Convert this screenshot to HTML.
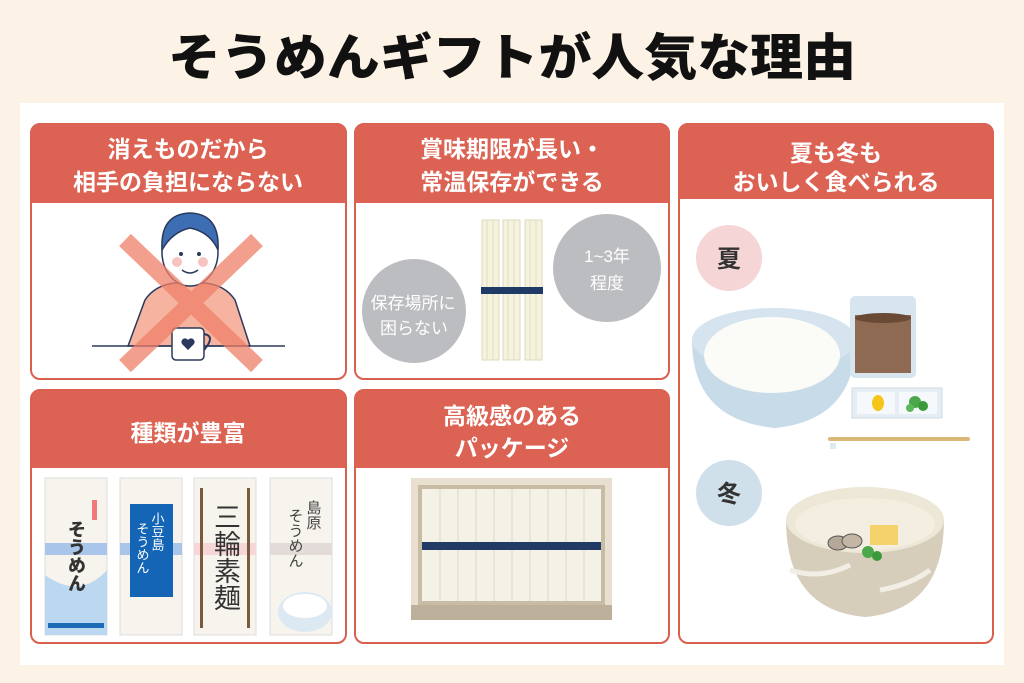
<!DOCTYPE html>
<html><head><meta charset="utf-8"><style>
html,body{margin:0;padding:0;background:#fcf3e6;}
svg{display:block}
text{font-family:"Liberation Sans","Noto Sans CJK JP",sans-serif;}
</style></head><body>
<svg width="1024" height="683" viewBox="0 0 1024 683" xmlns="http://www.w3.org/2000/svg">
<rect width="1024" height="683" fill="#fcf3e6"/>
<text x="512" y="75" text-anchor="middle" font-size="50" font-weight="900" fill="#111" textLength="688" lengthAdjust="spacingAndGlyphs">そうめんギフトが人気な理由</text>
<rect x="20" y="103" width="984" height="562" fill="#fff"/>

<!-- cards -->
<g stroke="#d9604f" stroke-width="2" fill="#fff">
<rect x="31" y="124" width="315" height="255" rx="9"/>
<rect x="355" y="124" width="314" height="255" rx="9"/>
<rect x="679" y="124" width="314" height="519" rx="9"/>
<rect x="31" y="390" width="315" height="253" rx="9"/>
<rect x="355" y="390" width="314" height="253" rx="9"/>
</g>
<g fill="#dc6353">
<path d="M31 203V133a9 9 0 0 1 9-9h297a9 9 0 0 1 9 9v70z"/>
<path d="M355 203V133a9 9 0 0 1 9-9h296a9 9 0 0 1 9 9v70z"/>
<path d="M679 199V133a9 9 0 0 1 9-9h296a9 9 0 0 1 9 9v66z"/>
<path d="M31 468V399a9 9 0 0 1 9-9h297a9 9 0 0 1 9 9v69z"/>
<path d="M355 468V399a9 9 0 0 1 9-9h296a9 9 0 0 1 9 9v69z"/>
</g>
<g fill="#fff" font-size="23" font-weight="700" text-anchor="middle">
<text x="188" y="157">消えものだから</text>
<text x="188" y="190">相手の負担にならない</text>
<text x="512" y="157">賞味期限が長い・</text>
<text x="512" y="190">常温保存ができる</text>
<text x="836" y="161">夏も冬も</text>
<text x="836" y="190">おいしく食べられる</text>
<text x="188" y="441">種類が豊富</text>
<text x="512" y="424">高級感のある</text>
<text x="512" y="456">パッケージ</text>
</g>

<!-- card1 person -->
<path d="M128 346 L145 300 Q155 285 175 283 L205 283 Q225 285 235 300 L250 346Z" fill="#f6b4a0" stroke="#2b3a5c" stroke-width="1.5"/>
<ellipse cx="190" cy="252" rx="28" ry="34" fill="#fff" stroke="#2b3a5c" stroke-width="1.5"/>
<path d="M162 250 Q160 214 190 213 Q220 214 218 250 Q210 232 190 228 Q172 232 162 250Z" fill="#3d6db3" stroke="#2b3a5c" stroke-width="1.5"/>
<circle cx="177" cy="262" r="5" fill="#f7c3c0"/><circle cx="203" cy="262" r="5" fill="#f7c3c0"/>
<circle cx="181" cy="254" r="2" fill="#2b3a5c"/><circle cx="199" cy="254" r="2" fill="#2b3a5c"/>
<path d="M182 270 Q190 276 198 270" stroke="#2b3a5c" fill="none" stroke-width="1.5"/>
<line x1="92" y1="346" x2="285" y2="346" stroke="#2b3a5c" stroke-width="1.5"/>
<rect x="172" y="328" width="32" height="32" rx="4" fill="#fff" stroke="#2b3a5c" stroke-width="1.5"/>
<path d="M204 334 q12 2 0 16" stroke="#2b3a5c" fill="none" stroke-width="2"/>
<path d="M188 350 l-6 -6 a3.5 3.5 0 0 1 6 -4 a3.5 3.5 0 0 1 6 4z" fill="#2b3a5c"/>
<g stroke="#f08068" stroke-width="17" opacity="0.75">
<line x1="125" y1="240" x2="257" y2="366"/><line x1="257" y1="240" x2="125" y2="366"/>
</g>

<!-- card2 -->
<circle cx="414" cy="311" r="52" fill="#bcbdc0"/>
<circle cx="607" cy="268" r="54" fill="#bcbdc0"/>
<g fill="#fff" font-size="17" text-anchor="middle">
<text x="413" y="309">保存場所に</text>
<text x="414" y="334">困らない</text>
<text x="607" y="262">1~3年</text>
<text x="607" y="289">程度</text>
</g>
<g fill="#f5f2dd" stroke="#dcd9bf" stroke-width="1">
<rect x="482" y="220" width="17" height="140"/><rect x="503" y="220" width="17" height="140"/><rect x="525" y="220" width="17" height="140"/>
</g>
<g stroke="#e3dfc4" stroke-width="1">
<line x1="487" y1="220" x2="487" y2="360"/><line x1="493" y1="220" x2="493" y2="360"/>
<line x1="508" y1="220" x2="508" y2="360"/><line x1="514" y1="220" x2="514" y2="360"/>
<line x1="530" y1="220" x2="530" y2="360"/><line x1="536" y1="220" x2="536" y2="360"/>
</g>
<rect x="481" y="287" width="62" height="7" fill="#203a66"/>

<!-- card4 packages -->
<rect x="45" y="478" width="62" height="157" fill="#f7f4ee" stroke="#ddd" /> 
<path d="M45 575 Q80 600 107 570 L107 635 L45 635Z" fill="#bcd7f0"/>
<rect x="48" y="623" width="56" height="5" fill="#1e6bb8"/>
<rect x="45" y="543" width="62" height="12" fill="#a9c6ea"/>
<rect x="92" y="500" width="5" height="20" fill="#f07a7a"/>
<text x="76" y="520" font-size="18" font-weight="900" fill="#333" writing-mode="tb" text-anchor="start">そうめん</text>
<rect x="120" y="478" width="62" height="157" fill="#f7f4ee" stroke="#ddd"/>
<rect x="120" y="543" width="62" height="12" fill="#a9c6ea"/>
<rect x="130" y="504" width="43" height="93" fill="#1465b5"/>
<text x="157" y="512" font-size="13" fill="#fff" writing-mode="tb">小豆島</text>
<text x="142" y="522" font-size="13" fill="#fff" writing-mode="tb">そうめん</text>
<rect x="194" y="478" width="62" height="157" fill="#f7f4ee" stroke="#ddd"/>
<rect x="194" y="543" width="62" height="12" fill="#f6d6d6"/>
<rect x="200" y="488" width="3" height="140" fill="#7a5a3a"/><rect x="247" y="488" width="3" height="140" fill="#7a5a3a"/>
<text x="225" y="503" font-size="27" fill="#333" font-family="'Noto Serif CJK SC',serif" writing-mode="tb">三輪素麺</text>
<rect x="270" y="478" width="62" height="157" fill="#f7f4ee" stroke="#ddd"/>
<rect x="270" y="543" width="62" height="12" fill="#e3dbd8"/>
<text x="313" y="500" font-size="15" fill="#444" writing-mode="tb">島原</text>
<text x="295" y="508" font-size="15" fill="#444" writing-mode="tb">そうめん</text>
<ellipse cx="305" cy="612" rx="27" ry="20" fill="#dce9f2"/><ellipse cx="305" cy="606" rx="22" ry="12" fill="#fff"/>

<!-- card5 box -->
<path d="M411 478 H612 V608 L605 620 H418 L411 608Z" fill="#e8dfd0"/>
<rect x="411" y="605" width="201" height="15" fill="#bdb09a"/>
<rect x="418" y="485" width="187" height="120" fill="#c9bca5"/>
<rect x="422" y="489" width="179" height="112" fill="#f4f1e6"/>
<g stroke="#ddd8c6" stroke-width="1">
<line x1="440" y1="489" x2="440" y2="601"/><line x1="458" y1="489" x2="458" y2="601"/><line x1="476" y1="489" x2="476" y2="601"/><line x1="494" y1="489" x2="494" y2="601"/><line x1="512" y1="489" x2="512" y2="601"/><line x1="530" y1="489" x2="530" y2="601"/><line x1="548" y1="489" x2="548" y2="601"/><line x1="566" y1="489" x2="566" y2="601"/><line x1="584" y1="489" x2="584" y2="601"/>
</g>
<rect x="422" y="542" width="179" height="8" fill="#223a66"/>

<!-- card3 -->
<circle cx="729" cy="258" r="33" fill="#f5d5d5"/>
<text x="729" y="267" text-anchor="middle" font-size="24" font-weight="700" fill="#333">夏</text>
<circle cx="729" cy="493" r="33" fill="#cfe0ea"/>
<text x="729" y="502" text-anchor="middle" font-size="24" font-weight="700" fill="#333">冬</text>
<path d="M692 340 Q692 420 775 428 Q855 420 856 340Z" fill="#c8dbe8"/>
<ellipse cx="774" cy="340" rx="82" ry="32" fill="#d5e4ee"/>
<ellipse cx="772" cy="355" rx="68" ry="38" fill="#fbfbf7"/>
<rect x="850" y="296" width="66" height="82" rx="5" fill="#d7e6ee"/>
<rect x="855" y="315" width="56" height="58" fill="#8e6a52"/>
<ellipse cx="883" cy="318" rx="28" ry="5" fill="#6a4a35"/>
<rect x="852" y="388" width="90" height="30" fill="#e5eef4" stroke="#cfdbe3"/>
<rect x="857" y="392" width="38" height="22" fill="#f6f9fb"/><rect x="899" y="392" width="38" height="22" fill="#f6f9fb"/>
<ellipse cx="878" cy="403" rx="6" ry="8" fill="#f5c518"/>
<circle cx="915" cy="402" r="6" fill="#4aa84a"/><circle cx="923" cy="406" r="5" fill="#3a9a3a"/><circle cx="910" cy="408" r="4" fill="#5bb85b"/>
<rect x="828" y="437" width="142" height="4" rx="2" fill="#d9b878"/>
<rect x="830" y="443" width="6" height="6" fill="#dfe9f0"/>
<path d="M786 520 Q786 610 865 617 Q944 610 944 520Z" fill="#d6cebb"/>
<ellipse cx="865" cy="520" rx="79" ry="33" fill="#ece7d6"/>
<ellipse cx="865" cy="524" rx="70" ry="26" fill="#f3eee0"/>
<path d="M790 570 Q820 580 850 565 M880 590 Q910 585 930 570" stroke="#f2eee6" stroke-width="5" fill="none"/>
<ellipse cx="838" cy="543" rx="10" ry="7" fill="#b6a898" stroke="#555" stroke-width="1"/>
<ellipse cx="852" cy="541" rx="10" ry="7" fill="#c4b6a4" stroke="#555" stroke-width="1"/>
<rect x="870" y="525" width="28" height="20" fill="#f6d26a"/>
<circle cx="868" cy="552" r="6" fill="#4aa84a"/><circle cx="877" cy="556" r="5" fill="#3a9a3a"/>
</svg>
</body></html>
